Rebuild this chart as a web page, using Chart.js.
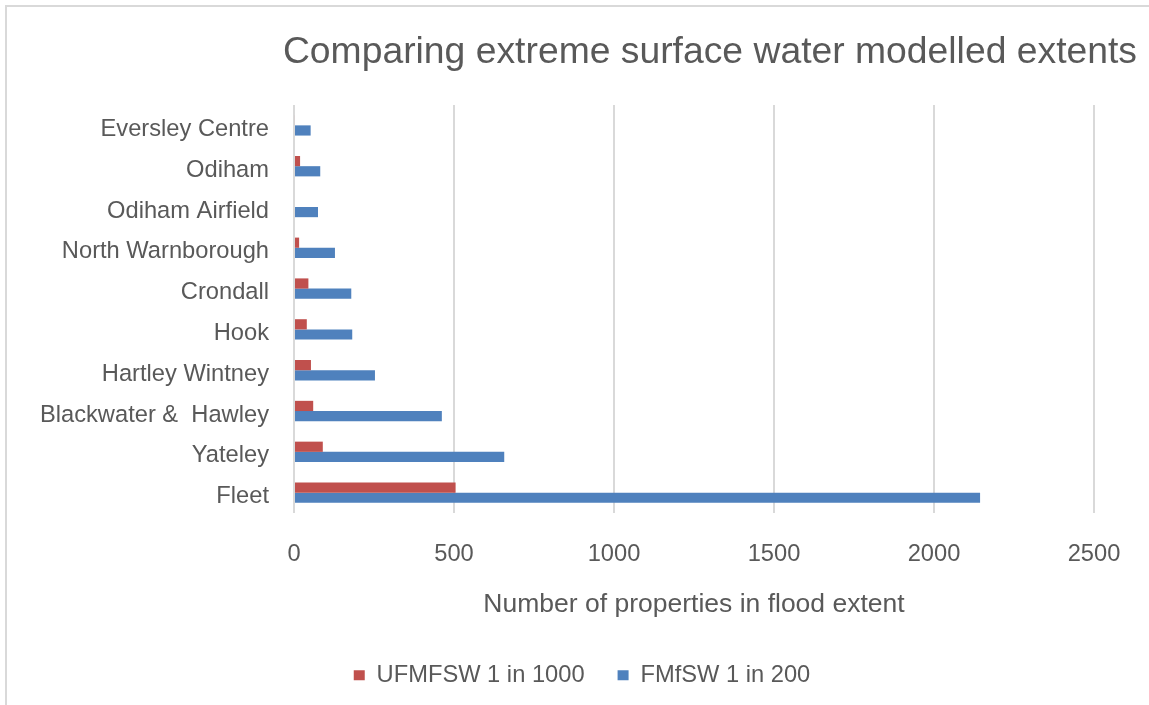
<!DOCTYPE html>
<html>
<head>
<meta charset="utf-8">
<script src="https://cdn.jsdelivr.net/npm/chart.js@4.4.1/dist/chart.umd.min.js"></script>
<style>
  html, body { margin: 0; padding: 0; background: #ffffff; overflow: hidden; }
  #frame {
    position: absolute; left: 5px; top: 5px; width: 1300px; height: 900px;
    border-left: 2px solid #d9d9d9; border-top: 2px solid #d9d9d9;
  }
  #wrap { position: absolute; left: 0; top: 0; width: 1149px; height: 705px; }
</style>
</head>
<body>
<div id="frame"></div>
<div id="wrap"><canvas id="chart" width="1149" height="705"></canvas></div>
<script>
// Settlements, listed top to bottom
const categories = [
  'Eversley Centre',
  'Odiham',
  'Odiham Airfield',
  'North Warnborough',
  'Crondall',
  'Hook',
  'Hartley Wintney',
  'Blackwater &  Hawley',
  'Yateley',
  'Fleet'
];

// Properties within each modelled surface water extent
const ufmfsw1in1000 = [3, 19, 0, 16, 45, 40, 53, 60, 90, 505];
const fmfsw1in200 = [52, 82, 75, 128, 179, 182, 253, 462, 657, 2144];

const seriesNames = ['UFMFSW 1 in 1000', 'FMfSW 1 in 200'];
const xTicks = [0, 500, 1000, 1500, 2000, 2500];

const textColor = '#595959';
const gridColor = '#d9d9d9';
const fontFamily = '"Liberation Sans", Arial, Helvetica, sans-serif';

new Chart(document.getElementById('chart'), {
  type: 'bar',
  data: {
    labels: categories,
    datasets: [
      {
        label: seriesNames[0],
        data: ufmfsw1in1000,
        backgroundColor: '#c0504d',
        categoryPercentage: 0.5,
        barPercentage: 1.0
      },
      {
        label: seriesNames[1],
        data: fmfsw1in200,
        backgroundColor: '#4f81bd',
        categoryPercentage: 0.5,
        barPercentage: 1.0
      }
    ]
  },
  options: {
    indexAxis: 'y',
    responsive: false,
    animation: false,
    devicePixelRatio: 1,
    layout: { padding: { left: 27, right: 12, top: 0, bottom: 8 } },
    scales: {
      x: {
        type: 'linear',
        min: xTicks[0],
        max: xTicks[xTicks.length - 1],
        afterBuildTicks: (scale) => { scale.ticks = xTicks.map(v => ({ value: v })); },
        grid: { color: gridColor, lineWidth: 2, drawTicks: false },
        border: { display: false },
        ticks: {
          color: textColor,
          padding: 27,
          font: { family: fontFamily, size: 23.7 },
          callback: (v) => String(v)
        },
        title: {
          display: true,
          text: 'Number of properties in flood extent',
          color: textColor,
          font: { family: fontFamily, size: 26.5 },
          padding: { top: -7, bottom: 10 }
        }
      },
      y: {
        grid: { display: false },
        border: { display: false },
        ticks: {
          color: textColor,
          padding: 17,
          labelOffset: 4,
          font: { family: fontFamily, size: 23.7 }
        },
        afterFit: (scale) => { scale.width = 294 - 27; }
      },
      yRight: {
        type: 'linear',
        axis: 'y',
        position: 'right',
        grid: { display: false },
        border: { display: false },
        ticks: { display: false },
        afterFit: (scale) => { scale.width = 1137 - 1094; }
      }
    },
    plugins: {
      title: {
        display: true,
        text: 'Comparing extreme surface water modelled extents',
        align: 'end',
        color: textColor,
        font: { family: fontFamily, size: 37.3, weight: 'normal' },
        padding: { top: 30, bottom: 30.2 }
      },
      legend: {
        position: 'bottom',
        labels: {
          color: textColor,
          boxWidth: 11,
          boxHeight: 10,
          padding: 33,
          font: { family: fontFamily, size: 23.7 }
        }
      },
      tooltip: { enabled: false }
    }
  }
});
</script>
</body>
</html>
